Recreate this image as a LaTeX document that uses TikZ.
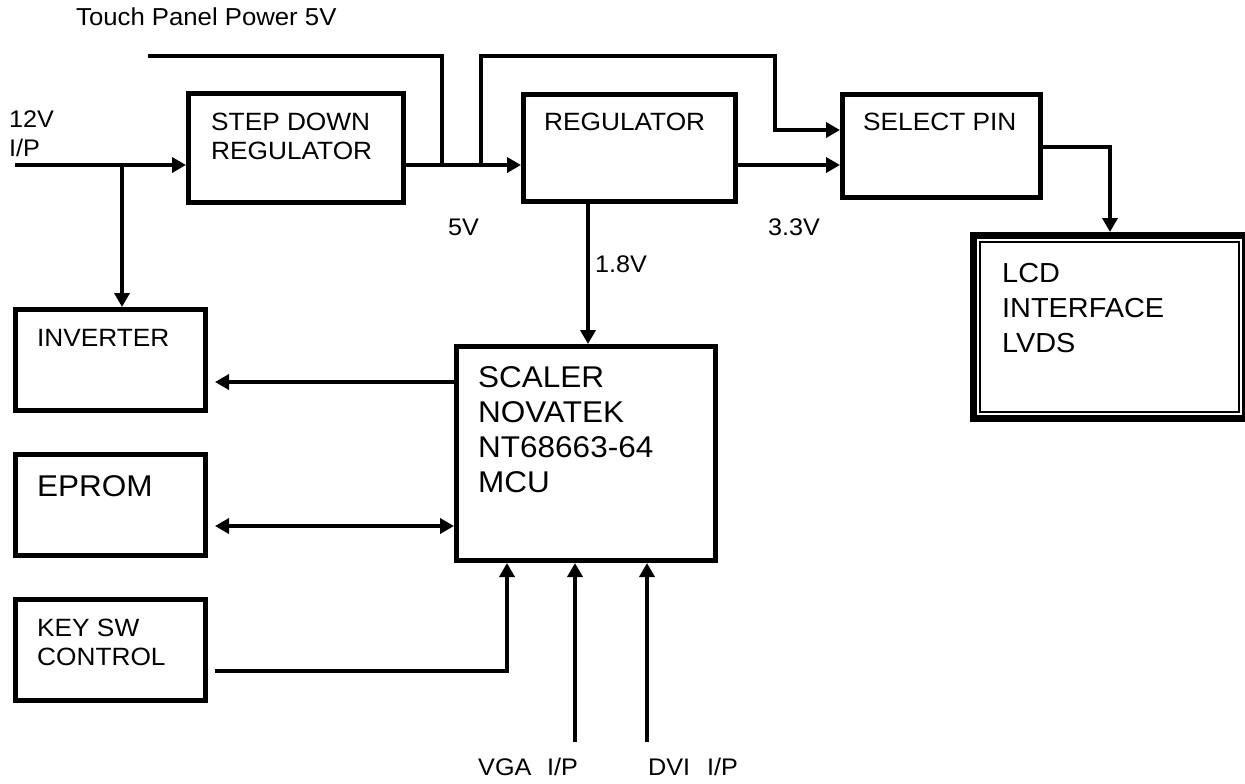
\documentclass[tikz,border=0pt]{standalone}
\usepackage{fontspec}
\setmainfont{Liberation Sans}[FakeStretch=1.05]
\usetikzlibrary{arrows.meta,calc}
\tikzset{
  box/.style={draw, line width=5pt, rectangle, inner sep=0pt},
  conn/.style={line width=3.8pt},
  arr/.style={conn, -{Triangle[length=14pt,width=15pt]}},
  barr/.style={conn, {Triangle[length=14pt,width=15pt]}-{Triangle[length=14pt,width=15pt]}},
  txt/.style={anchor=base west, inner sep=0pt, align=left, font=\fontsize{25}{29}\selectfont},
  lbl/.style={anchor=base west, inner sep=0pt, align=left, font=\fontsize{24}{29}\selectfont},
  big/.style={anchor=base west, inner sep=0pt, align=left, font=\fontsize{30}{35}\selectfont},
  lcdt/.style={anchor=base west, inner sep=0pt, align=left, font=\fontsize{27.5}{35}\selectfont},
}
\begin{document}
\begin{tikzpicture}[x=1pt,y=-1pt]
\useasboundingbox (0,0) rectangle (1245,784);
% boxes
\node[box, minimum width=215pt, minimum height=109pt] (sd) at (296,148) {};
\node[box, minimum width=212pt, minimum height=107pt] (reg) at (629.5,148) {};
\node[box, minimum width=198pt, minimum height=103pt] (sel) at (941.5,146) {};
\node[box, minimum width=190pt, minimum height=101pt] (inv) at (110.5,360) {};
\node[box, minimum width=190pt, minimum height=101pt] (ep) at (110.5,505) {};
\node[box, minimum width=190pt, minimum height=101pt] (key) at (110.5,650) {};
\node[box, minimum width=259pt, minimum height=214pt] (sc) at (586,453.5) {};
\node[draw, line width=7pt, inner sep=0pt, minimum width=272pt, minimum height=183pt] (lcd) at (1109,327) {};
\node[draw, line width=1.5pt, inner sep=0pt, minimum width=259pt, minimum height=170pt] (lcdin) at (1109.5,327) {};
% texts (base = baseline of last line)
\node[lbl, font=\fontsize{24.5}{29}\selectfont] (tTP) at (76,26) {Touch Panel Power 5V};
\node[lbl] (t12) at (9,156) {12V\\I/P};
\node[txt] (tSD) at (211,159) {STEP DOWN\\REGULATOR};
\node[txt] (tREG) at (544,130) {REGULATOR};
\node[txt] (tSEL) at (863,130) {SELECT PIN};
\node[txt] (tINV) at (37,346) {INVERTER};
\node[big] (tEP) at (37,496) {EPROM};
\node[txt] (tKEY) at (37,665) {KEY SW\\CONTROL};
\node[big] (tSC) at (478,492) {SCALER\\NOVATEK\\NT68663-64\\MCU};
\node[lcdt] (tLCD) at (1002,352) {LCD\\INTERFACE\\LVDS};
\node[lbl] (t5) at (448,235) {5V};
\node[lbl] (t33) at (768,235) {3.3V};
\node[lbl] (t18) at (595,272) {1.8V};
\node[lbl] (tVGA) at (478,775) {VGA};
\node[lbl] (tVGAip) at (547,775) {I/P};
\node[lbl] (tDVI) at (648,775) {DVI};
\node[lbl] (tDVIip) at (707,775) {I/P};
% coordinates
\coordinate (in12) at (15,165);
\coordinate (j1) at (122,165);
\coordinate (j2) at (442,165);
\coordinate (j3) at (481,165);
\coordinate (tp) at (148,56);
\coordinate (v18) at (588,0);
\coordinate (vga) at (575,742);
\coordinate (dvi) at (647,742);
\coordinate (ks) at (507,671);
% connectors
\draw[arr] (in12) -- (sd.west |- in12);
\draw[arr] (j1) -- (inv.north -| j1);
\draw[arr] (sd.east |- in12) -- (reg.west |- in12);
\draw[conn] (tp) -- (442,56) -- (j2);
\draw[arr] (j3) -- (481,56) -- (775,56) -- (775,130) -- (sel.west |- 775,130);
\draw[arr] (reg.east |- in12) -- (sel.west |- in12);
\draw[arr] (sel.east |- 0,147) -- (1110,147) -- (lcd.north -| 1110,0);
\draw[arr] (reg.south -| v18) -- (sc.north -| v18);
\draw[arr, shorten >=7pt] (sc.west |- 0,382) -- (inv.east |- 0,382);
\draw[barr, shorten <=7pt] (ep.east |- 0,526) -- (sc.west |- 0,526);
\draw[arr, shorten <=7pt] (key.east |- ks) -- (ks) -- (sc.south -| ks);
\draw[arr] (vga) -- (sc.south -| vga);
\draw[arr] (dvi) -- (sc.south -| dvi);
\end{tikzpicture}
\end{document}
